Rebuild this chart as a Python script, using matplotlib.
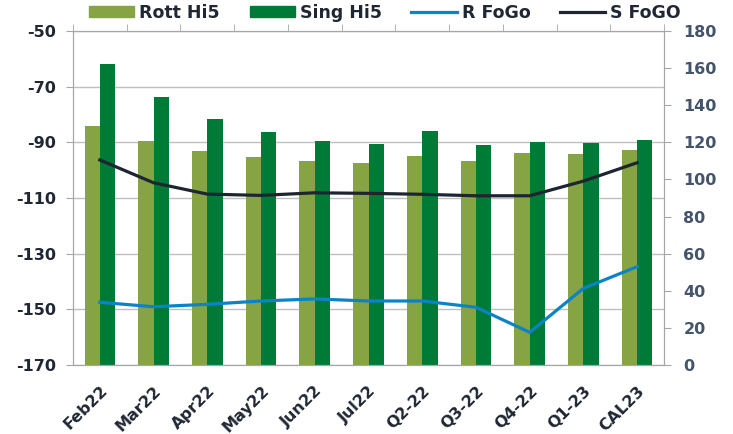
import numpy as np
import matplotlib
matplotlib.use("Agg")
import matplotlib.pyplot as plt
from matplotlib.patches import Patch
from matplotlib.lines import Line2D
from matplotlib.ticker import FixedLocator

categories = ["Feb22", "Mar22", "Apr22", "May22", "Jun22", "Jul22",
              "Q2-22", "Q3-22", "Q4-22", "Q1-23", "CAL23"]
rott_hi5 = [-84.0, -89.6, -93.1, -95.2, -96.7, -97.3, -94.9, -96.7, -94.0, -94.1, -92.9]
sing_hi5 = [-62.0, -73.8, -81.6, -86.4, -89.4, -90.7, -85.9, -91.0, -90.0, -90.1, -89.2]
r_fogo = [33.8, 31.4, 32.7, 34.5, 35.6, 34.5, 34.5, 31.1, 17.6, 41.3, 53.0]
s_fogo = [110.5, 98.2, 92.1, 91.4, 92.8, 92.5, 92.0, 91.2, 91.2, 99.1, 109.0]

C_ROTT = "#86A443"
C_SING = "#007A37"
C_R = "#0A84C6"
C_S = "#1F2530"
C_GRID = "#BFBFBF"
C_SPINE = "#A6A6A6"
C_LTXT = "#1F2733"
C_RTXT = "#44546A"

plt.rcParams["font.family"] = "DejaVu Sans"
plt.rcParams["font.weight"] = "bold"
plt.rcParams["axes.unicode_minus"] = False

fig = plt.figure(figsize=(7.33, 4.34), dpi=100)
ax = fig.add_axes([73 / 733, 1 - 365 / 434, (664 - 73) / 733, (365 - 31) / 434])

x = np.arange(len(categories))
w = 0.285
base = -170
ax.bar(x - w / 2, np.array(rott_hi5) - base, w, bottom=base, color=C_ROTT, zorder=2)
ax.bar(x + w / 2, np.array(sing_hi5) - base, w, bottom=base, color=C_SING, zorder=2)

ax.set_xlim(-0.5, len(categories) - 0.5)
ax.set_ylim(-170, -50)
ax.set_yticks(np.arange(-170, -49, 20))
ax.yaxis.grid(True, color=C_GRID, lw=1, zorder=0)
ax.set_axisbelow(True)
for s in ax.spines.values():
    s.set_color(C_SPINE)
ax.tick_params(axis="y", colors=C_SPINE, labelcolor=C_LTXT, labelsize=11.5,
               length=5, pad=7)

ax.set_xticks(x)
ax.set_xticklabels(categories, rotation=45, ha="right", rotation_mode="anchor",
                   fontsize=11.5, color=C_LTXT, fontweight="bold")
ax.tick_params(axis="x", which="major", length=0, pad=13)
ax.xaxis.set_minor_locator(FixedLocator(np.arange(-0.5, len(categories), 1.0)))
ax.tick_params(axis="x", which="minor", top=True, bottom=False, length=5,
               color=C_SPINE, direction="out")

ax2 = ax.twinx()
ax2.plot(x, r_fogo, color=C_R, lw=2.3, zorder=3)
ax2.plot(x, s_fogo, color=C_S, lw=2.3, zorder=3)
ax2.set_ylim(0, 180)
ax2.set_yticks(np.arange(0, 181, 20))
for s in ax2.spines.values():
    s.set_color(C_SPINE)
ax2.tick_params(axis="y", colors=C_SPINE, labelcolor=C_RTXT, labelsize=11.5,
                length=5, pad=9)

handles = [Patch(color=C_ROTT), Patch(color=C_SING),
           Line2D([], [], color=C_R, lw=2.3), Line2D([], [], color=C_S, lw=2.3)]
labels = ["Rott Hi5", "Sing Hi5", "R FoGo", "S FoGO"]
leg = fig.legend(handles, labels, loc="center", bbox_to_anchor=(385 / 733, 1 - 13 / 434),
                 ncol=4, frameon=False, fontsize=12.5, handlelength=2.6, handleheight=0.6,
                 handletextpad=0.3, columnspacing=1.7)
for t in leg.get_texts():
    t.set_color(C_LTXT)

fig.savefig("out.png", dpi=100)
